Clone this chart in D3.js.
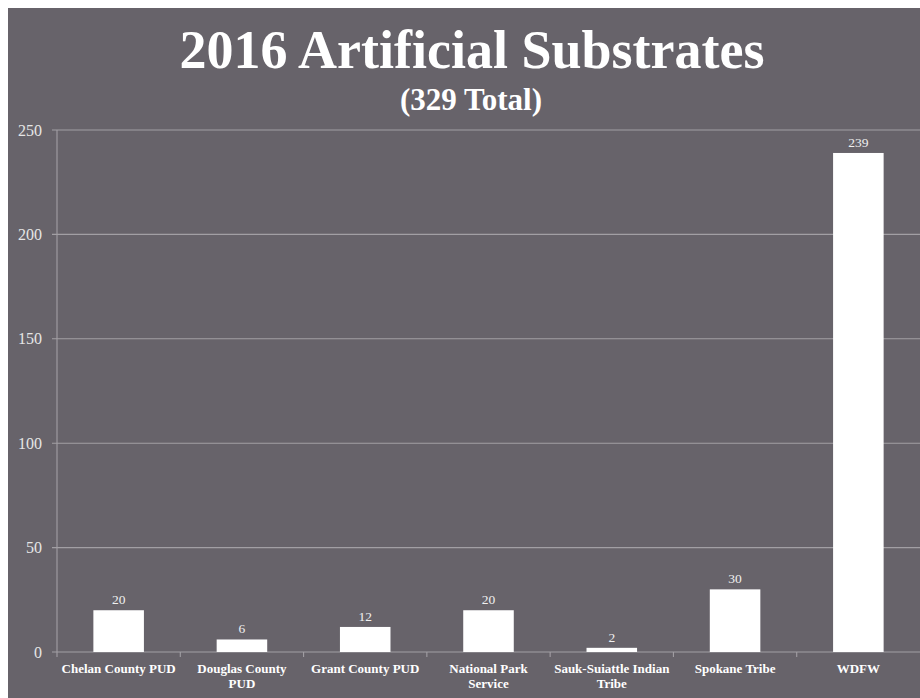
<!DOCTYPE html>
<html><head><meta charset="utf-8">
<script src="https://cdn.jsdelivr.net/npm/d3@7"></script>
<style>
html,body{margin:0;padding:0;background:#fff;}
svg{display:block;}
</style></head>
<body>
<svg id="chart" width="920" height="698"></svg>
<script>
const categories = ["Chelan County PUD","Douglas County PUD","Grant County PUD","National Park Service","Sauk-Suiattle Indian Tribe","Spokane Tribe","WDFW"];
const tickLabels = ["Chelan County PUD","Douglas County\nPUD","Grant County PUD","National Park\nService","Sauk-Suiattle Indian\nTribe","Spokane Tribe","WDFW"];
const values = [20,6,12,20,2,30,239];
const yTicks = [0,50,100,150,200,250];
const title = "2016 Artificial Substrates";
const subtitle = "(329 Total)";

const svg = d3.select("#chart");
const W = 920, H = 698;
const font = "'Liberation Serif','Times New Roman',serif";

svg.append("rect").attr("x",8).attr("y",8).attr("width",W-8).attr("height",H-8).attr("fill","#67636a");

const x = d3.scaleBand().domain(categories).range([57,920]).paddingInner(0.59).paddingOuter(0.295);
const xb = d3.scaleBand().domain(categories).range([57,920]);
const y = d3.scaleLinear().domain([0,250]).range([652,130]);

const gridColor = "#a29fa4";

svg.append("g").selectAll("line").data(yTicks).join("line")
  .attr("x1",52).attr("x2",920)
  .attr("y1",d=>y(d)).attr("y2",d=>y(d))
  .attr("stroke",gridColor).attr("stroke-width",1.1);

svg.append("line").attr("x1",57).attr("x2",57).attr("y1",y(250)).attr("y2",y(0)+5)
  .attr("stroke",gridColor).attr("stroke-width",1.1);

svg.append("g").selectAll("text").data(yTicks).join("text")
  .attr("x",42).attr("y",d=>y(d)).attr("dy","0.35em")
  .attr("text-anchor","end").attr("fill","#e6e6e6")
  .attr("font-family",font).attr("font-size",16).text(d=>d);

const bounds = categories.slice(1).map(c=>xb(c));
svg.append("g").selectAll("line").data(bounds).join("line")
  .attr("x1",d=>d).attr("x2",d=>d).attr("y1",y(0)).attr("y2",y(0)+5)
  .attr("stroke",gridColor).attr("stroke-width",1.1);

svg.append("g").selectAll("rect").data(values).join("rect")
  .attr("x",(d,i)=>x(categories[i])).attr("width",x.bandwidth())
  .attr("y",d=>y(d)).attr("height",d=>y(0)-y(d))
  .attr("fill","#ffffff");

svg.append("g").selectAll("text").data(values).join("text")
  .attr("x",(d,i)=>x(categories[i])+x.bandwidth()/2)
  .attr("y",d=>y(d)-6)
  .attr("text-anchor","middle").attr("fill","#f0f0f0")
  .attr("font-family",font).attr("font-size",13.5).text(d=>d);

const xl = svg.append("g").selectAll("text").data(tickLabels).join("text")
  .attr("x",(d,i)=>xb(categories[i])+xb.bandwidth()/2)
  .attr("y",673)
  .attr("text-anchor","middle").attr("fill","#ffffff")
  .attr("font-family",font).attr("font-size",13).attr("font-weight","bold");
xl.each(function(d){
  const t = d3.select(this);
  const cx = t.attr("x");
  d.split("\n").forEach((ln,k)=>{
    t.append("tspan").attr("x",cx).attr("dy",k===0?0:15).text(ln);
  });
});

svg.append("text").attr("x",472).attr("y",68).attr("text-anchor","middle")
  .attr("fill","#ffffff").attr("font-family",font).attr("font-weight","bold")
  .attr("font-size",54).text(title);
svg.append("text").attr("x",471).attr("y",110).attr("text-anchor","middle")
  .attr("fill","#ffffff").attr("font-family",font).attr("font-weight","bold")
  .attr("font-size",31).text(subtitle);
</script>
</body></html>
